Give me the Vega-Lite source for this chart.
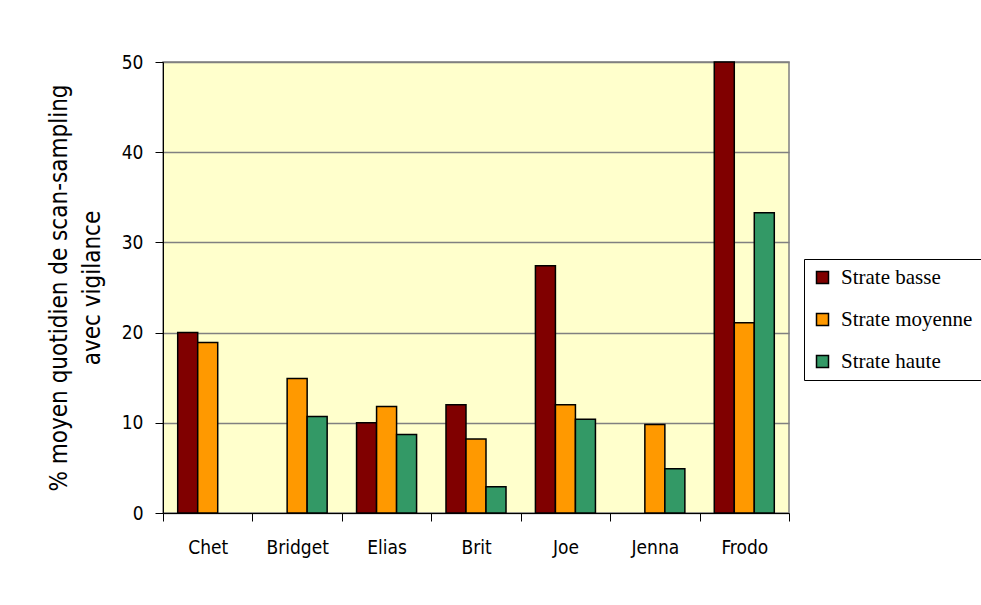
{
  "$schema": "https://vega.github.io/schema/vega-lite/v6.json",
  "width": 626,
  "height": 451,
  "autosize": {"type": "none"},
  "padding": {"left": 163, "top": 62, "right": 192, "bottom": 92},
  "background": "white",
  "config": {
    "view": {"fill": "#FFFFCC", "stroke": "#808080", "strokeWidth": 1.5}
  },
  "data": {
    "values": [
      {"name": "Chet", "strate": "Strate basse", "value": 20.0},
      {"name": "Chet", "strate": "Strate moyenne", "value": 18.9},
      {"name": "Bridget", "strate": "Strate moyenne", "value": 14.9},
      {"name": "Bridget", "strate": "Strate haute", "value": 10.7},
      {"name": "Elias", "strate": "Strate basse", "value": 10.0},
      {"name": "Elias", "strate": "Strate moyenne", "value": 11.8},
      {"name": "Elias", "strate": "Strate haute", "value": 8.7},
      {"name": "Brit", "strate": "Strate basse", "value": 12.0},
      {"name": "Brit", "strate": "Strate moyenne", "value": 8.2},
      {"name": "Brit", "strate": "Strate haute", "value": 2.9},
      {"name": "Joe", "strate": "Strate basse", "value": 27.4},
      {"name": "Joe", "strate": "Strate moyenne", "value": 12.0},
      {"name": "Joe", "strate": "Strate haute", "value": 10.4},
      {"name": "Jenna", "strate": "Strate moyenne", "value": 9.8},
      {"name": "Jenna", "strate": "Strate haute", "value": 4.9},
      {"name": "Frodo", "strate": "Strate basse", "value": 50.0},
      {"name": "Frodo", "strate": "Strate moyenne", "value": 21.1},
      {"name": "Frodo", "strate": "Strate haute", "value": 33.3}
    ]
  },
  "mark": {"type": "bar", "stroke": "black", "strokeWidth": 1.5},
  "encoding": {
    "x": {
      "field": "name",
      "type": "nominal",
      "sort": ["Chet", "Bridget", "Elias", "Brit", "Joe", "Jenna", "Frodo"],
      "scale": {"paddingInner": 0, "paddingOuter": 0},
      "axis": {
        "title": null,
        "labelAngle": 0,
        "tickBand": "extent",
        "domainColor": "black",
        "tickColor": "black",
        "tickSize": 8,
        "labelPadding": 17,
        "labelFont": "Liberation Sans Narrow, Arial Narrow, DejaVu Sans Condensed, sans-serif",
        "labelFontSize": 19,
        "labelColor": "black",
        "grid": false
      }
    },
    "xOffset": {
      "field": "strate",
      "type": "nominal",
      "scale": {"domain": ["Strate basse", "Strate moyenne", "Strate haute"], "paddingInner": 0, "paddingOuter": 0.735}
    },
    "y": {
      "field": "value",
      "type": "quantitative",
      "scale": {"domain": [0, 50], "nice": false},
      "axis": {
        "values": [0, 10, 20, 30, 40, 50],
        "title": ["% moyen quotidien de scan-sampling", "avec vigilance"],
        "titleFont": "Liberation Sans Narrow, Arial Narrow, DejaVu Sans Condensed, sans-serif",
        "titleFontSize": 24,
        "titleFontWeight": "normal",
        "titleColor": "black",
        "titleLineHeight": 33,
        "titlePadding": 17,
        "labelFont": "Liberation Sans Narrow, Arial Narrow, DejaVu Sans Condensed, sans-serif",
        "labelFontSize": 19,
        "labelColor": "black",
        "labelPadding": 12,
        "tickSize": 8,
        "tickColor": "black",
        "domainColor": "black",
        "gridColor": "#808080",
        "gridWidth": 1.5,
        "gridOpacity": 1
      }
    },
    "color": {
      "field": "strate",
      "type": "nominal",
      "scale": {
        "domain": ["Strate basse", "Strate moyenne", "Strate haute"],
        "range": ["#800000", "#FF9900", "#339966"]
      },
      "legend": {
        "title": null,
        "orient": "none",
        "legendX": 641,
        "legendY": 197,
        "padding": 8,
        "strokeColor": "black",
        "fillColor": "white",
        "symbolType": "square",
        "symbolSize": 144,
        "symbolStrokeColor": "black",
        "symbolStrokeWidth": 1.5,
        "symbolOpacity": 1,
        "labelFont": "Liberation Serif, Times New Roman, serif",
        "labelFontSize": 21,
        "labelColor": "black",
        "labelOffset": 8,
        "rowPadding": 20,
        "labelLimit": 300
      }
    }
  }
}
